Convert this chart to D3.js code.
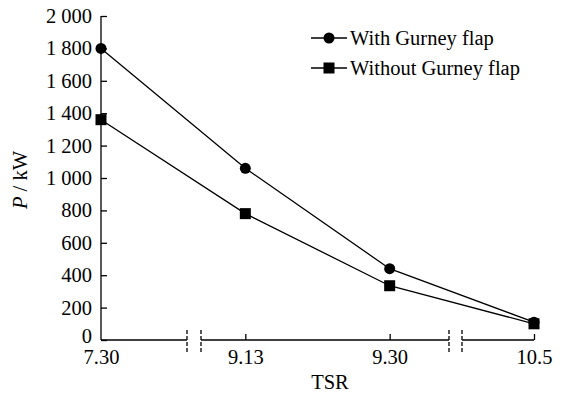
<!DOCTYPE html>
<html>
<head>
<meta charset="utf-8">
<script src="https://cdn.jsdelivr.net/npm/d3@7"></script>
<style>
  body { margin: 0; background: #fff; }
</style>
</head>
<body>
<div id="chart"></div>
<script>
const categories = ['7.30', '9.13', '9.30', '10.5'];
const withFlap = [1800, 1060, 440, 110];
const withoutFlap = [1360, 780, 335, 100];
const yTicks = [0, 200, 400, 600, 800, 1000, 1200, 1400, 1600, 1800, 2000];
const seriesNames = ['With Gurney flap', 'Without Gurney flap'];

const W = 566, H = 395;
const FONT = 'Liberation Serif';
const FS = 20.5;
const svg = d3.select('#chart').append('svg')
  .attr('width', W).attr('height', H)
  .attr('font-family', FONT);

const x = d3.scalePoint().domain(categories).range([101, 534]);
const y = d3.scaleLinear().domain([0, 2000]).range([340, 16]);
const fmt = d => d === 0 ? '0' : d3.format(',')(d).replace(',', ' ');

// y axis, ticks pointing inward
const yAxis = svg.append('g')
  .attr('transform', 'translate(101,0)')
  .call(d3.axisRight(y).tickValues(yTicks).tickSize(6).tickFormat(fmt))
  .attr('font-family', FONT).attr('font-size', FS);
yAxis.select('.domain').attr('d', `M0,${y(0)}V${y(2000)}`).attr('stroke', '#000').attr('stroke-width', 1.3);
yAxis.selectAll('.tick line').attr('stroke', '#000').attr('stroke-width', 1.3);
yAxis.selectAll('.tick text')
  .attr('x', -9).attr('text-anchor', 'end').attr('fill', '#000');
yAxis.selectAll('.tick').filter(d => d === 0).select('text').attr('dy', '0.1em');

// x axis with breaks
const xAxis = svg.append('g')
  .attr('transform', `translate(0,${y(0)})`)
  .call(d3.axisTop(x).tickSize(6).tickSizeOuter(0))
  .attr('font-family', FONT).attr('font-size', FS);
xAxis.select('.domain').remove();
xAxis.selectAll('.tick line').attr('stroke', '#000').attr('stroke-width', 1.3);
xAxis.selectAll('.tick').filter(d => d === '7.30').select('line').remove();
xAxis.selectAll('.tick text')
  .attr('y', 9).attr('dy', '0.71em').attr('fill', '#000');

const breaks = [[187, 201], [449, 462]];
const segs = [[x('7.30'), breaks[0][0]], [breaks[0][1], breaks[1][0]], [breaks[1][1], x('10.5')]];
svg.append('g').selectAll('line').data(segs).join('line')
  .attr('x1', d => d[0]).attr('x2', d => d[1])
  .attr('y1', y(0)).attr('y2', y(0))
  .attr('stroke', '#000').attr('stroke-width', 1.3);
svg.append('g').selectAll('line').data(breaks.flat()).join('line')
  .attr('x1', d => d).attr('x2', d => d)
  .attr('y1', y(0) - 10).attr('y2', y(0) + 12)
  .attr('stroke', '#000').attr('stroke-width', 1.3)
  .attr('stroke-dasharray', '4,2');

// series
const line = d3.line().x((d, i) => x(categories[i])).y(d => y(d));
[withFlap, withoutFlap].forEach(s => {
  svg.append('path').datum(s)
    .attr('fill', 'none').attr('stroke', '#000').attr('stroke-width', 1.3)
    .attr('d', line);
});
svg.append('g').selectAll('circle').data(withFlap).join('circle')
  .attr('cx', (d, i) => x(categories[i])).attr('cy', d => y(d))
  .attr('r', 5.5).attr('fill', '#000');
svg.append('g').selectAll('rect').data(withoutFlap).join('rect')
  .attr('x', (d, i) => x(categories[i]) - 5.5).attr('y', d => y(d) - 5.5)
  .attr('width', 11).attr('height', 11).attr('fill', '#000');

// legend
const leg = svg.append('g').attr('transform', 'translate(311,38)');
seriesNames.forEach((name, i) => {
  const g = leg.append('g').attr('transform', `translate(0,${i * 30})`);
  g.append('line').attr('x1', 0).attr('x2', 36).attr('stroke', '#000').attr('stroke-width', 1.3);
  if (i === 0) g.append('circle').attr('cx', 18).attr('r', 5.5).attr('fill', '#000');
  else g.append('rect').attr('x', 12.5).attr('y', -5.5).attr('width', 11).attr('height', 11).attr('fill', '#000');
  g.append('text').attr('x', 39).attr('dy', '0.35em')
    .attr('font-size', FS).text(name);
});

// axis titles
svg.append('text').attr('x', 330).attr('y', 389)
  .attr('text-anchor', 'middle').attr('font-size', FS).text('TSR');
const yt = svg.append('text')
  .attr('transform', 'translate(27,180) rotate(-90)')
  .attr('text-anchor', 'middle').attr('font-size', FS);
yt.append('tspan').attr('font-style', 'italic').text('P');
yt.append('tspan').text(' / kW');
</script>
</body>
</html>
